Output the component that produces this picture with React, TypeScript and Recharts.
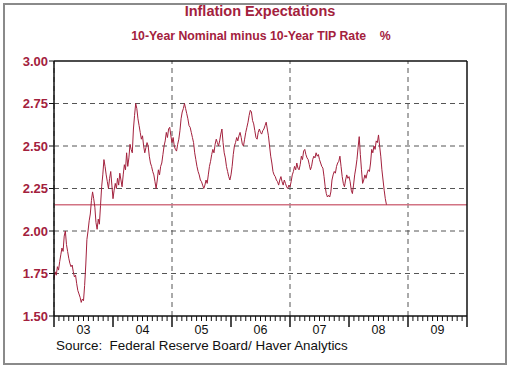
import { LineChart, Line, XAxis, YAxis, ReferenceLine } from "recharts"

// weekly readings of the 10y breakeven, %
const y2003 = [
  1.72, 1.76, 1.74, 1.79, 1.77, 1.82, 1.86, 1.9, 1.88, 1.97, 2.0, 1.92, 1.88,
  1.84, 1.81, 1.79, 1.8, 1.76, 1.73, 1.74, 1.69, 1.65, 1.63, 1.61, 1.58, 1.6,
  1.59, 1.68, 1.8, 1.95, 2.0, 2.06, 2.1, 2.18, 2.23, 2.19, 2.14, 2.05, 2.01,
  2.07, 2.04, 2.15, 2.26, 2.33, 2.42, 2.38, 2.33, 2.29, 2.25, 2.31, 2.35, 2.27,
]
const y2004 = [
  2.19, 2.24, 2.28, 2.25, 2.31, 2.27, 2.34, 2.3, 2.26, 2.33, 2.39, 2.36, 2.46,
  2.38, 2.43, 2.51, 2.48, 2.46, 2.6, 2.68, 2.75, 2.72, 2.66, 2.62, 2.58, 2.54,
  2.56, 2.5, 2.46, 2.49, 2.52, 2.5, 2.44, 2.4, 2.38, 2.35, 2.33, 2.29, 2.25,
  2.3, 2.36, 2.33, 2.38, 2.4, 2.45, 2.5, 2.53, 2.58, 2.55, 2.6, 2.61, 2.56,
]
const y2005 = [
  2.52, 2.55, 2.5, 2.48, 2.47, 2.51, 2.54, 2.59, 2.66, 2.7, 2.72, 2.75, 2.72,
  2.69, 2.66, 2.62, 2.61, 2.58, 2.55, 2.52, 2.46, 2.42, 2.38, 2.35, 2.33, 2.3,
  2.29, 2.27, 2.25, 2.27, 2.3, 2.28, 2.33, 2.38, 2.41, 2.45, 2.48, 2.46, 2.51,
  2.54, 2.52, 2.5, 2.53, 2.57, 2.6, 2.52, 2.46, 2.43, 2.38, 2.35, 2.32, 2.3,
]
const y2006 = [
  2.33, 2.38, 2.45, 2.5, 2.52, 2.55, 2.53, 2.56, 2.58, 2.55, 2.51, 2.5, 2.54,
  2.58, 2.61, 2.64, 2.68, 2.71, 2.7, 2.65, 2.63, 2.59, 2.55, 2.54, 2.58, 2.6,
  2.58, 2.57, 2.59, 2.6, 2.62, 2.64, 2.6, 2.56, 2.5, 2.44, 2.4, 2.35, 2.33,
  2.32, 2.3, 2.29, 2.27, 2.3, 2.32, 2.29, 2.27, 2.3, 2.28, 2.26, 2.25, 2.27,
]
const y2007 = [
  2.26, 2.29, 2.33, 2.35, 2.38, 2.36, 2.4, 2.37, 2.36, 2.39, 2.44, 2.42, 2.47,
  2.48, 2.45, 2.43, 2.42, 2.39, 2.36, 2.38, 2.42, 2.44, 2.43, 2.46, 2.44, 2.45,
  2.42, 2.4, 2.38, 2.37, 2.32, 2.26, 2.22, 2.2, 2.21, 2.2, 2.23, 2.3, 2.33,
  2.35, 2.34, 2.38, 2.4, 2.41, 2.44, 2.38, 2.32, 2.28, 2.26, 2.3, 2.33, 2.31,
]
const y2008 = [
  2.32, 2.29, 2.24, 2.22, 2.27, 2.33, 2.37, 2.42, 2.49, 2.555, 2.45, 2.36, 2.28,
  2.3, 2.33, 2.31, 2.34, 2.36, 2.35, 2.4, 2.48, 2.46, 2.5, 2.48, 2.53, 2.52,
  2.565, 2.5, 2.44, 2.36, 2.3, 2.24, 2.19, 2.155,
]

const years = [2003, 2004, 2005, 2006, 2007, 2008]
const series = [y2003, y2004, y2005, y2006, y2007, y2008]
const yTicks = [1.5, 1.75, 2.0, 2.25, 2.5, 2.75, 3.0]
const gridYears = [2003, 2005, 2007, 2009]
const lastValue = 2.155

const data = series.flatMap((vals, k) =>
  vals.map((v, i) => ({ t: years[k] + i / 52, v }))
)

// monthly ticks, 2003..2010
const monthTicks = Array.from({ length: 85 }, (_, m) => 2003 + m / 12)

const RED = "#a3213d"
const font = "'Liberation Sans', Arial, sans-serif"

function MonthTick({ x, y, payload }: any) {
  const m = Math.round((payload.value - 2003) * 12)
  const major = m % 12 === 0
  const mid = m % 12 === 6
  const yr = String(2003 + Math.floor(m / 12)).slice(2)
  return (
    <g>
      <line x1={x} x2={x} y1={y} y2={y + (major ? 11 : 5)} stroke="#111" strokeWidth={major ? 1.5 : 1} />
      {mid && (
        <text x={x} y={y + 18} textAnchor="middle" fontSize={12.5} fill="#111" fontFamily={font}>
          {yr}
        </text>
      )}
    </g>
  )
}

export default function App() {
  const yTick = { fill: RED, fontSize: 13, fontFamily: font, fontWeight: "bold" as const }
  return (
    <div style={{ position: "absolute", left: 0, top: 0, width: 510, height: 368, background: "#fff" }}>
      <div
        style={{
          position: "absolute", left: 3, top: 3, width: 500, height: 358,
          border: "2px solid #8a8a8a", boxSizing: "content-box",
        }}
      />
      <div
        style={{
          position: "absolute", left: 0, width: 520, top: 3, textAlign: "center",
          color: RED, fontFamily: font, fontWeight: "bold", fontSize: 14.5,
        }}
      >
        Inflation Expectations
      </div>
      <div
        style={{
          position: "absolute", left: 0, width: 522, top: 29, textAlign: "center", whiteSpace: "pre",
          color: RED, fontFamily: font, fontWeight: "bold", fontSize: 12.3,
        }}
      >
        {"10-Year Nominal minus 10-Year TIP Rate    %"}
      </div>
      <div
        style={{
          position: "absolute", left: 56, top: 338, whiteSpace: "pre", lineHeight: "15px",
          color: "#111", fontFamily: font, fontSize: 13.4,
        }}
      >
        {"Source:  Federal Reserve Board/ Haver Analytics"}
      </div>
      <LineChart
        width={510}
        height={368}
        data={data}
        margin={{ top: 61, right: 0, left: 0, bottom: 32 }}
        style={{ position: "absolute", left: 0, top: 0 }}
      >
        <XAxis
          dataKey="t"
          type="number"
          domain={[2003, 2010]}
          ticks={monthTicks}
          interval={0}
          tick={<MonthTick />}
          tickLine={false}
          tickSize={0}
          tickMargin={0}
          height={20}
          axisLine={{ stroke: "#111", strokeWidth: 1.5 }}
        />
        <YAxis
          yAxisId="left"
          domain={[1.5, 3]}
          ticks={yTicks}
          width={54}
          tick={yTick}
          tickFormatter={(v: number) => v.toFixed(2)}
          tickSize={5}
          tickMargin={1}
          tickLine={{ stroke: "#111" }}
          axisLine={{ stroke: "#111", strokeWidth: 1.5 }}
        />
        <YAxis
          yAxisId="right"
          orientation="right"
          domain={[1.5, 3]}
          ticks={yTicks}
          width={43}
          tick={yTick}
          tickFormatter={(v: number) => v.toFixed(2)}
          tickSize={5}
          tickMargin={1}
          tickLine={{ stroke: "#111" }}
          axisLine={{ stroke: "#111", strokeWidth: 1.5 }}
        />
        {yTicks.slice(1, -1).map((v) => (
          <ReferenceLine key={v} yAxisId="left" y={v} stroke="#555" strokeDasharray="5 4" />
        ))}
        {gridYears.map((t) => (
          <ReferenceLine key={t} yAxisId="left" x={t} stroke="#555" strokeDasharray="5 4" />
        ))}
        <ReferenceLine yAxisId="left" y={3} stroke="#111" strokeWidth={1.5} />
        <ReferenceLine yAxisId="left" y={lastValue} stroke="#d27383" strokeWidth={1.5} />
        <Line
          yAxisId="left"
          dataKey="v"
          type="linear"
          stroke={RED}
          strokeWidth={1}
          dot={false}
          isAnimationActive={false}
        />
      </LineChart>
    </div>
  )
}
